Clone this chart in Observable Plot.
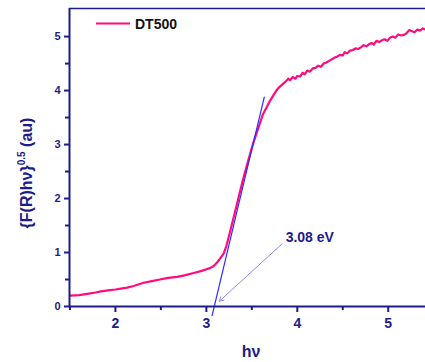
<!DOCTYPE html>
<html><head><meta charset="utf-8">
<script src="https://cdn.jsdelivr.net/npm/d3@7"></script>
<script src="https://cdn.jsdelivr.net/npm/@observablehq/plot@0.6"></script>
<style>body{margin:0;background:#fff;} svg{font-family:"Liberation Sans",Arial,sans-serif;}</style>
</head><body><div id="chart"></div>
<script>
const hv = [1.50,1.60,1.69,1.78,1.84,1.92,2.00,2.06,2.13,2.20,2.31,2.40,2.49,2.58,2.68,2.77,2.86,2.95,3.00,3.04,3.08,3.12,3.16,3.19,3.22,3.26,3.30,3.34,3.37,3.40,3.44,3.48,3.52,3.56,3.60,3.62,3.66,3.70,3.74,3.77,3.80,3.84,3.88,3.90,3.92,3.95,3.98,4.00,4.03,4.06,4.08,4.11,4.14,4.17,4.20,4.23,4.26,4.29,4.32,4.35,4.38,4.41,4.44,4.47,4.50,4.52,4.55,4.58,4.61,4.64,4.67,4.70,4.73,4.76,4.79,4.82,4.84,4.87,4.90,4.93,4.96,4.99,5.02,5.05,5.08,5.11,5.14,5.17,5.20,5.23,5.26,5.29,5.32,5.35,5.38,5.41];
const fr = [0.20,0.21,0.235,0.26,0.28,0.30,0.315,0.33,0.35,0.38,0.44,0.47,0.50,0.53,0.55,0.58,0.62,0.66,0.69,0.71,0.75,0.82,0.91,0.98,1.12,1.38,1.65,1.92,2.13,2.33,2.58,2.82,3.05,3.25,3.45,3.55,3.68,3.81,3.92,4.00,4.06,4.12,4.18,4.22,4.19,4.25,4.22,4.27,4.26,4.33,4.30,4.37,4.35,4.41,4.42,4.46,4.44,4.50,4.52,4.55,4.58,4.61,4.63,4.66,4.65,4.71,4.69,4.74,4.75,4.78,4.77,4.80,4.84,4.82,4.86,4.88,4.85,4.92,4.90,4.93,4.95,4.92,4.98,5.00,4.98,5.04,5.02,5.03,5.06,5.12,5.10,5.08,5.13,5.11,5.15,5.13];
const tangentX = [3.063, 3.637];
const tangentY = [-0.17, 3.88];
const arrowFrom = [3.832, 1.16];
const arrowTo = [3.143, 0.098];
const annotation = "3.08 eV";
const seriesName = "DT500";
const xTicks = [2,3,4,5];
const xMinor = [1.5,2.5,3.5,4.5];
const yTicks = [0,1,2,3,4,5];
const yMinor = [0.5,1.5,2.5,3.5,4.5];

const data = hv.map((x,i)=>({x, y: fr[i]}));
const navy = "#1c1c8a";
const xDomain = [1.495, 5.41];
const yDomain = [0, 5.52];

const plot = Plot.plot({
  width: 425, height: 362,
  marginLeft: 69, marginTop: 8, marginBottom: 56, marginRight: 0,
  x: {domain: xDomain}, y: {domain: yDomain},
  style: {fontFamily: "Liberation Sans, Arial, sans-serif", background: "#fff"},
  marks: [
    Plot.line(data, {x: "x", y: "y", stroke: "#ff0a7f", strokeWidth: 2.2}),
    Plot.line(tangentX.map((x,i)=>({x, y: tangentY[i]})), {x:"x", y:"y", stroke:"#2b2bff", strokeWidth: 1.2, clip: false}),
    Plot.arrow([{x1: arrowFrom[0], y1: arrowFrom[1], x2: arrowTo[0], y2: arrowTo[1]}], {x1:"x1", y1:"y1", x2:"x2", y2:"y2", stroke:"#8c8cf5", strokeWidth: 1, headLength: 7}),
    Plot.text([annotation], {x: arrowFrom[0] + 0.04, y: arrowFrom[1] + 0.12, text: d=>d, textAnchor: "start", fill: navy, fontWeight: "bold", fontSize: 14}),
    Plot.ruleY([yDomain[1]], {stroke: navy, strokeWidth: 1.5}),
    Plot.ruleY([0], {stroke: navy, strokeWidth: 2}),
    Plot.ruleX([xDomain[0]], {stroke: navy, strokeWidth: 2}),
    Plot.axisX(xTicks, {tickSize: 6, tickPadding: 6, stroke: navy, fill: navy, fontWeight: "bold", fontSize: 14, strokeWidth: 2, label: null, tickFormat: d=>d}),
    Plot.axisX(xMinor, {tickSize: 4, stroke: navy, strokeWidth: 2, tickFormat: null, label: null, text: null}),
    Plot.axisY(yTicks, {tickSize: 5, tickPadding: 4, stroke: navy, fill: navy, fontWeight: "bold", fontSize: 11, strokeWidth: 2, label: null, tickFormat: d=>d}),
    Plot.axisY(yMinor, {tickSize: 4, stroke: navy, strokeWidth: 2, tickFormat: null, label: null, text: null})
  ]
});
document.getElementById("chart").appendChild(plot);

const svg = d3.select(plot);
// legend
svg.append("line").attr("x1",96).attr("x2",130).attr("y1",23.5).attr("y2",23.5).attr("stroke","#ff0a7f").attr("stroke-width",2.2);
svg.append("text").attr("x",135).attr("y",28.5).attr("text-anchor","start").attr("fill","#111").attr("font-weight","bold").attr("font-size",14).text(seriesName);
// x label
svg.append("text").attr("x",251).attr("y",357).attr("text-anchor","middle").attr("fill",navy).attr("font-weight","bold").attr("font-size",16).text("hν");
// y label
const yl = svg.append("text").attr("transform","translate(32,173) rotate(-90)").attr("text-anchor","middle").attr("fill",navy).attr("font-weight","bold").attr("font-size",16);
yl.append("tspan").text("{F(R)hν}");
yl.append("tspan").attr("font-size",10).attr("dy",-7).text("0.5");
yl.append("tspan").attr("dy",7).text(" (au)");
</script>
</body></html>
